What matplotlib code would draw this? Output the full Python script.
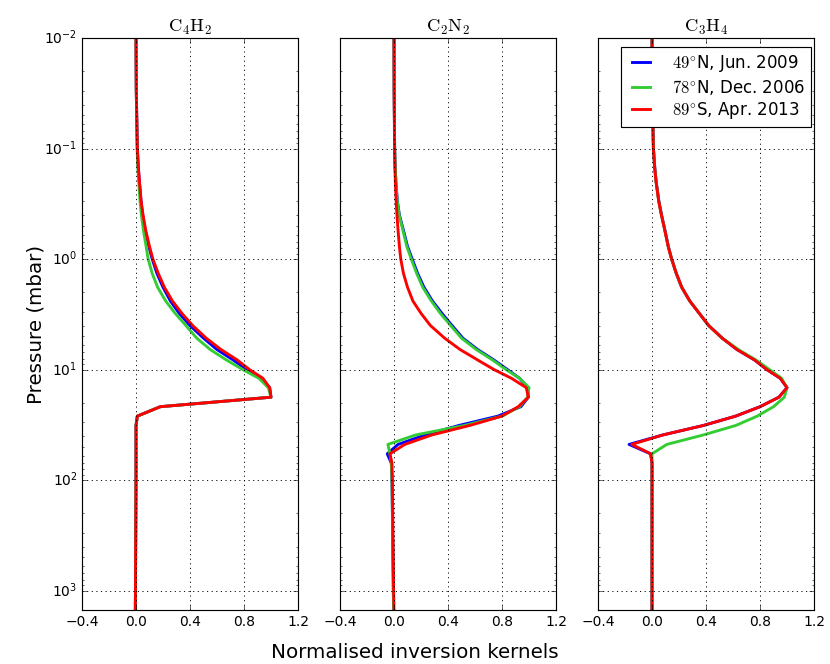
import matplotlib
matplotlib.use("Agg")
import matplotlib.pyplot as plt
from matplotlib.ticker import FuncFormatter, LogLocator, FixedLocator
import numpy as np

plt.style.use('classic')
plt.rcParams['mathtext.fontset'] = 'cm'
plt.rcParams['font.family'] = ['DejaVu Sans']

# ---- data ---------------------------------------------------------------
pressure = [0.01, 0.03, 0.1, 0.15, 0.2, 0.3, 0.4, 0.55, 0.77, 1.0, 1.35, 1.8,
            2.4, 3.1, 4.0, 5.2, 6.6, 8.2, 10.0, 12.0, 14.6, 17.8, 21.7, 26.4,
            32.1, 39.1, 47.6, 57.9, 70.5, 100, 300, 1000, 1500]

species = [r'$\mathrm{C_4H_2}$', r'$\mathrm{C_2N_2}$', r'$\mathrm{C_3H_4}$']
labels = [r'$49^{\circ}$N, Jun. 2009', r'$78^{\circ}$N, Dec. 2006',
          r'$89^{\circ}$S, Apr. 2013']

# C4H2 kernels
c4h2_49n = [0.0, 0.002, 0.01, 0.017, 0.025, 0.037, 0.05, 0.068, 0.095, 0.12, 0.155, 0.20,
            0.255, 0.32, 0.40, 0.50, 0.60, 0.72, 0.82, 0.93, 0.99, 1.0, 0.18, 0.01,
            0.0, 0.0, 0.0, 0.0, 0.0, 0.0, -0.002, -0.004, -0.005]
c4h2_78n = [0.0, 0.002, 0.008, 0.014, 0.02, 0.03, 0.04, 0.055, 0.075, 0.09, 0.12, 0.16,
            0.22, 0.29, 0.37, 0.45, 0.55, 0.67, 0.79, 0.91, 0.98, 1.0, 0.18, 0.01,
            0.0, 0.0, 0.0, 0.0, 0.0, 0.0, -0.002, -0.004, -0.005]
c4h2_89s = [0.0, 0.002, 0.01, 0.018, 0.026, 0.038, 0.052, 0.072, 0.10, 0.125, 0.165, 0.21,
            0.27, 0.34, 0.42, 0.52, 0.63, 0.75, 0.84, 0.94, 0.99, 1.0, 0.18, 0.01,
            0.0, 0.0, 0.0, 0.0, 0.0, 0.0, -0.002, -0.004, -0.005]

# C2N2 kernels
c2n2_49n = [0.0, 0.001, 0.005, 0.009, 0.014, 0.025, 0.04, 0.07, 0.10, 0.135, 0.175, 0.222,
            0.285, 0.355, 0.43, 0.51, 0.62, 0.74, 0.84, 0.93, 0.99, 0.995, 0.94, 0.77,
            0.48, 0.23, 0.03, -0.05, -0.02, -0.015, -0.01, -0.005, -0.003]
c2n2_78n = [0.0, 0.001, 0.005, 0.009, 0.014, 0.024, 0.038, 0.066, 0.095, 0.128, 0.168, 0.213,
            0.277, 0.343, 0.42, 0.50, 0.61, 0.73, 0.83, 0.93, 1.0, 0.99, 0.93, 0.80,
            0.52, 0.16, -0.045, -0.03, -0.02, -0.015, -0.01, -0.005, -0.003]
c2n2_89s = [0.0, 0.001, 0.004, 0.007, 0.01, 0.016, 0.022, 0.03, 0.04, 0.05, 0.07, 0.10,
            0.14, 0.20, 0.27, 0.375, 0.49, 0.62, 0.74, 0.87, 0.98, 0.995, 0.92, 0.80,
            0.56, 0.28, 0.08, -0.03, -0.015, -0.012, -0.008, -0.003, 0.0]

# C3H4 kernels
c3h4_49n = [0.0, 0.002, 0.011, 0.021, 0.031, 0.051, 0.071, 0.096, 0.121, 0.146, 0.18, 0.22,
            0.28, 0.35, 0.42, 0.52, 0.63, 0.76, 0.85, 0.95, 1.0, 0.94, 0.80, 0.62,
            0.38, 0.08, -0.17, -0.01, 0.0, 0.0, 0.0, 0.0, 0.0]
c3h4_78n = [0.0, 0.002, 0.01, 0.02, 0.03, 0.05, 0.07, 0.095, 0.12, 0.145, 0.18, 0.22,
            0.28, 0.35, 0.42, 0.52, 0.64, 0.77, 0.87, 0.96, 1.0, 0.98, 0.90, 0.78,
            0.62, 0.38, 0.11, 0.0, 0.0, 0.0, 0.0, 0.0, 0.0]
c3h4_89s = [0.0, 0.002, 0.01, 0.02, 0.03, 0.05, 0.07, 0.095, 0.12, 0.145, 0.18, 0.22,
            0.28, 0.35, 0.42, 0.52, 0.63, 0.76, 0.85, 0.95, 1.0, 0.94, 0.80, 0.62,
            0.38, 0.08, -0.15, -0.01, 0.0, 0.0, 0.0, 0.0, 0.0]

kernels = [[c4h2_49n, c4h2_78n, c4h2_89s],
           [c2n2_49n, c2n2_78n, c2n2_89s],
           [c3h4_49n, c3h4_78n, c3h4_89s]]
colors = ['#0000ff', '#33cc33', '#ff0000']
xticks = [-0.4, 0.0, 0.4, 0.8, 1.2]

# ---- figure -------------------------------------------------------------
fig = plt.figure(figsize=(10, 8), dpi=83, facecolor='white')
left, right, bottom, top = 82/830, 814/830, 1-610/664, 1-38/664
gap = 42/830
w = (right - left - 2*gap) / 3
axes = []
for i in range(3):
    ax = fig.add_axes([left + i*(w+gap), bottom, w, top-bottom],
                      sharey=axes[0] if axes else None)
    ax.set_facecolor('white')
    axes.append(ax)

def logfmt(v, pos):
    e = int(round(np.log10(v)))
    return r'$\mathregular{10^{%d}}$' % e

for i, ax in enumerate(axes):
    for vals, col, lab in zip(kernels[i], colors, labels):
        ax.plot(vals, pressure, color=col, lw=2.5, label=lab)
    ax.set_yscale('log')
    ax.set_ylim(1500, 1e-2)
    ax.set_xlim(-0.4, 1.2)
    ax.xaxis.set_major_locator(FixedLocator(xticks))
    ax.yaxis.set_major_locator(LogLocator(base=10, numticks=10))
    ax.yaxis.set_minor_locator(LogLocator(base=10, subs=np.arange(2, 10), numticks=20))
    ax.yaxis.set_major_formatter(FuncFormatter(logfmt))
    ax.grid(True, which='major', linestyle=':', color='black', linewidth=0.8)
    ax.set_title(species[i], fontsize=16)
    if i > 0:
        ax.tick_params(labelleft=False)

axes[0].set_ylabel('Pressure (mbar)', fontsize='x-large')
axes[0].yaxis.set_label_coords(-0.17, 0.5)
axes[2].legend(loc='upper right', bbox_to_anchor=(1.0, 0.99), fontsize='large',
               handlelength=1.7, handletextpad=1.0, labelspacing=0.22,
               borderpad=0.35, borderaxespad=0.2, numpoints=2)
fig.text(0.5, 1-652/664, 'Normalised inversion kernels', ha='center', va='center',
         fontsize='x-large')

fig.savefig('out.png', dpi=83, facecolor='white')
